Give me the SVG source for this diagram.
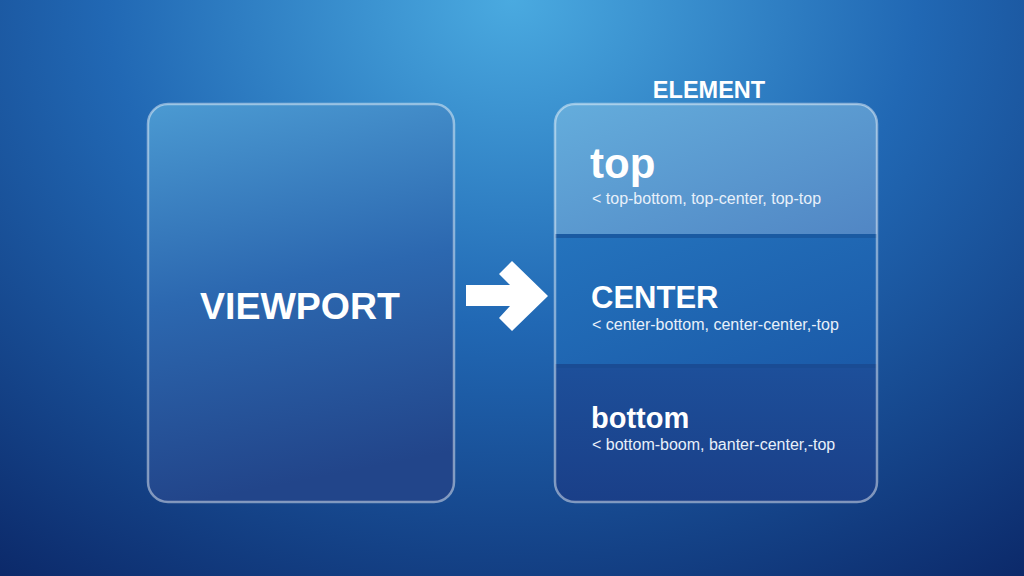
<svg xmlns="http://www.w3.org/2000/svg" width="1024" height="576" viewBox="0 0 1024 576">
<defs>
<radialGradient id="bg" cx="512" cy="0" r="720" gradientUnits="userSpaceOnUse" gradientTransform="translate(512 0) scale(1.25 1) translate(-512 0)">
<stop offset="0" stop-color="#4aaae0"/>
<stop offset="0.45" stop-color="#2168b4"/>
<stop offset="1" stop-color="#0b2767"/>
</radialGradient>
<linearGradient id="vp" x1="0" y1="0" x2="0.15" y2="1">
<stop offset="0" stop-color="#4b9ad2"/>
<stop offset="0.5" stop-color="#2c68b0"/>
<stop offset="1" stop-color="#22458a"/>
</linearGradient>
<linearGradient id="topSec" x1="0" y1="0" x2="1" y2="1">
<stop offset="0" stop-color="#64addc"/>
<stop offset="1" stop-color="#5186c4"/>
</linearGradient>
<linearGradient id="midSec" x1="0" y1="0" x2="1" y2="1">
<stop offset="0" stop-color="#2473bd"/>
<stop offset="1" stop-color="#1b5aa8"/>
</linearGradient>
<linearGradient id="botSec" x1="0" y1="0" x2="0" y2="1">
<stop offset="0" stop-color="#1d4f9a"/>
<stop offset="1" stop-color="#1a3f88"/>
</linearGradient>
<clipPath id="elClip"><rect x="555" y="104" width="322" height="398" rx="20"/></clipPath>
</defs>
<style>
.frame{fill:none;stroke:#ffffff;stroke-opacity:0.45;stroke-width:2.5}
.t{font-family:"Liberation Sans",Arial,sans-serif;fill:#ffffff}
.b{font-weight:bold}
.sub{font-size:16px;fill:#e8f0fa}
</style>
<rect width="1024" height="576" fill="url(#bg)"/>
<g id="viewport">
<rect x="148" y="104" width="306" height="398" rx="20" fill="url(#vp)"/>
<rect class="frame" x="148" y="104" width="306" height="398" rx="20"/>
<text class="t b" x="300" y="319" font-size="37.5" text-anchor="middle">VIEWPORT</text>
</g>
<g id="connectors">
<polygon points="466,285 510,285 499,274 512,261 548,296 512,331 499,318 510,306 466,306" fill="#ffffff"/>
</g>
<g id="element">
<text class="t b" x="709" y="98" font-size="23.5" text-anchor="middle">ELEMENT</text>
<g clip-path="url(#elClip)">
<rect x="555" y="104" width="322" height="130" fill="url(#topSec)"/>
<rect x="555" y="234" width="322" height="4" fill="#1a5aa2"/>
<rect x="555" y="238" width="322" height="126" fill="url(#midSec)"/>
<rect x="555" y="364" width="322" height="4" fill="#1a4c94"/>
<rect x="555" y="368" width="322" height="134" fill="url(#botSec)"/>
</g>
<rect class="frame" x="555" y="104" width="322" height="398" rx="20"/>
</g>
<g id="sec-top">
<text class="t b" x="590" y="178" font-size="42">top</text>
<text class="t sub" x="592" y="204">&lt; top-bottom, top-center, top-top</text>
</g>
<g id="sec-center">
<text class="t b" x="591" y="308" font-size="31">CENTER</text>
<text class="t sub" x="592" y="330">&lt; center-bottom, center-center,-top</text>
</g>
<g id="sec-bottom">
<text class="t b" x="591" y="428" font-size="29">bottom</text>
<text class="t sub" x="592" y="450">&lt; bottom-boom, banter-center,-top</text>
</g>
</svg>
